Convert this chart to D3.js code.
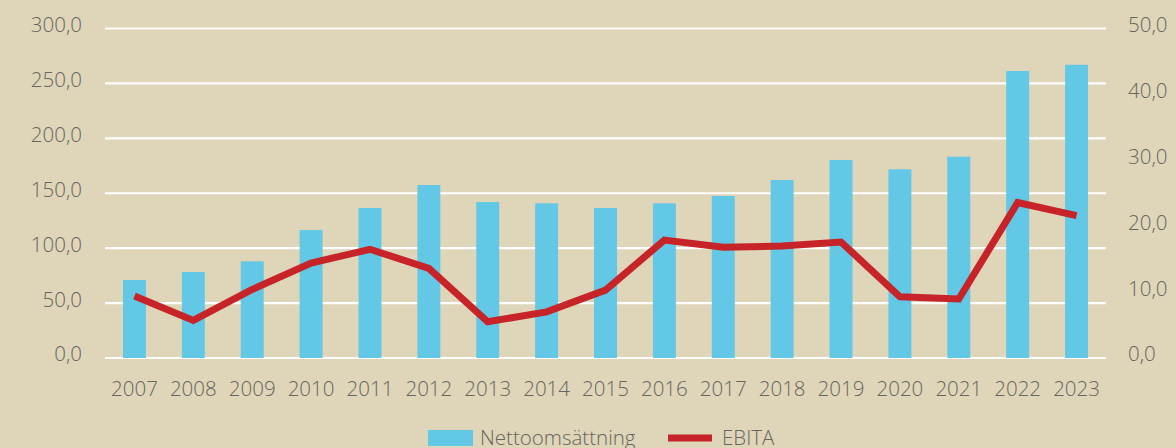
<!DOCTYPE html>
<html>
<head>
<meta charset="utf-8">
<script src="https://cdn.jsdelivr.net/npm/d3@7"></script>
<style>
  body { margin: 0; background: #dfd5b9; }
  text { font-family: "Open Sans", sans-serif; font-weight: 300; fill: #66655f; }
</style>
</head>
<body>
<div id="container"></div>
<script>
let w = 1176;
let h = 448;

// data
let years = ["2007","2008","2009","2010","2011","2012","2013","2014","2015","2016","2017","2018","2019","2020","2021","2022","2023"];
let netSales = [71.0, 78.3, 88.0, 116.5, 136.6, 157.5, 142.0, 140.8, 136.6, 140.8, 147.5, 162.0, 180.3, 171.8, 183.3, 261.3, 267.0];
let ebita = [9.4, 5.7, 10.4, 14.4, 16.5, 13.6, 5.5, 7.0, 10.3, 17.9, 16.8, 17.0, 17.6, 9.3, 8.95, 23.6, 21.6];
let leftTicks = [0, 50, 100, 150, 200, 250, 300];
let rightTicks = [0, 10, 20, 30, 40, 50];
let seriesNames = ["Nettoomsättning", "EBITA"];

let plotLeft = 105, plotRight = 1106, plotTop = 28.5, plotBottom = 358;

let viz = d3.select("#container")
  .append("svg")
    .attr("width", w)
    .attr("height", h)
    .style("background-color", "#dfd5b9")
;

let xScale = d3.scaleBand().domain(years).range([plotLeft, plotRight]).paddingInner(0.61).paddingOuter(0.305);
let yLeft = d3.scaleLinear().domain([0, 300]).range([plotBottom, plotTop]);
let yRight = d3.scaleLinear().domain([0, 50]).range([plotBottom, plotTop]);

let fmt = function(d){ return d3.format(".1f")(d).replace(".", ","); };

// gridlines
viz.append("g").selectAll("line").data(leftTicks).enter()
  .append("line")
    .attr("x1", plotLeft)
    .attr("x2", plotRight)
    .attr("y1", d => yLeft(d))
    .attr("y2", d => yLeft(d))
    .attr("stroke", "white")
    .attr("stroke-width", 2.2)
;

// left axis labels
viz.append("g").selectAll("text").data(leftTicks).enter()
  .append("text")
    .attr("x", 82)
    .attr("y", d => yLeft(d) - 2)
    .attr("text-anchor", "end")
    .attr("dominant-baseline", "middle")
    .attr("font-size", "20.5px")
    .text(fmt)
;

// right axis labels
viz.append("g").selectAll("text").data(rightTicks).enter()
  .append("text")
    .attr("x", 1128)
    .attr("y", d => yRight(d) - 2)
    .attr("text-anchor", "start")
    .attr("dominant-baseline", "middle")
    .attr("font-size", "20.5px")
    .text(fmt)
;

// year labels
viz.append("g").selectAll("text").data(years).enter()
  .append("text")
    .attr("x", d => xScale(d) + xScale.bandwidth() / 2)
    .attr("y", 396)
    .attr("text-anchor", "middle")
    .attr("font-size", "20.5px")
    .text(d => d)
;

// bars
viz.append("g").selectAll("rect").data(netSales).enter()
  .append("rect")
    .attr("x", (d, i) => xScale(years[i]))
    .attr("width", xScale.bandwidth())
    .attr("y", d => yLeft(d))
    .attr("height", d => yLeft(0) - yLeft(d))
    .attr("fill", "#62c8e6")
;

// ebita line
let line = d3.line()
  .x((d, i) => xScale(years[i]) + xScale.bandwidth() / 2)
  .y(d => yRight(d));

viz.append("path")
  .datum(ebita)
  .attr("d", line)
  .attr("fill", "none")
  .attr("stroke", "#c62428")
  .attr("stroke-width", 7)
  .attr("stroke-linejoin", "miter")
;

// legend
let legend = viz.append("g");
legend.append("rect")
  .attr("x", 428).attr("y", 430).attr("width", 45).attr("height", 16)
  .attr("fill", "#62c8e6");
legend.append("text")
  .attr("x", 480).attr("y", 445).attr("font-size", "20.5px")
  .text(seriesNames[0]);
legend.append("line")
  .attr("x1", 668).attr("x2", 712).attr("y1", 438).attr("y2", 438)
  .attr("stroke", "#c62428").attr("stroke-width", 7);
legend.append("text")
  .attr("x", 722).attr("y", 445).attr("font-size", "20.5px")
  .text(seriesNames[1]);
</script>
</body>
</html>
